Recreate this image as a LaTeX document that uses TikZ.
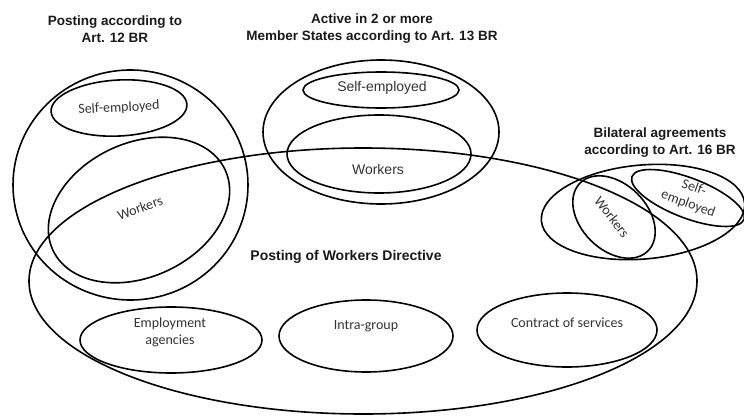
\documentclass[tikz,border=0pt]{standalone}
\usepackage{fontspec}
\setmainfont{Carlito}
\newfontfamily\arialfont{Liberation Sans}
\begin{document}
\begin{tikzpicture}[x=1pt,y=-1pt,
  venn/.style={line width=1.6pt,draw=black},
  title/.style={font=\arialfont\bfseries\fontsize{13.5}{17}\selectfont,align=center,text=black!90},
  lbl/.style={font=\fontsize{14}{17}\selectfont,align=center,text=black!80,inner sep=0.5pt},
  albl/.style={font=\arialfont\fontsize{14}{17}\selectfont,align=center,text=black!80,inner sep=0.5pt}]
\useasboundingbox (0,0) rectangle (744,415);
% big ellipse
\draw[venn] (363,281) ellipse [x radius=334, y radius=133];
% left group
\draw[venn] (130.5,185) ellipse [x radius=117.5, y radius=115];
\draw[venn, rotate around={3:(119,108)}] (119,108) ellipse [x radius=68, y radius=28];
\draw[venn, rotate around={25:(139,210)}] (139,210) ellipse [x radius=95, y radius=67];
% middle group
\draw[venn] (381,132) ellipse [x radius=118, y radius=72];
\draw[venn] (381,90) ellipse [x radius=78, y radius=18];
\draw[venn] (379,154) ellipse [x radius=92, y radius=39];
% right group
\draw[venn, rotate around={5:(643,212)}] (643,212) ellipse [x radius=102, y radius=47];
\draw[venn, rotate around={-45:(614,217)}] (614,217) ellipse [x radius=48, y radius=33];
\draw[venn, rotate around={-21:(688,198)}] (688,198) ellipse [x radius=60, y radius=20];
% bottom ellipses
\draw[venn] (171,340) ellipse [x radius=91, y radius=33];
\draw[venn] (366,336) ellipse [x radius=87, y radius=36];
\draw[venn] (567,330) ellipse [x radius=90, y radius=37];
% titles
\node[title] (t12) at (115,29) {Posting according to\\Art. 12 BR};
\node[title] (t13) at (372,29) {Active in 2 or more\\Member States according to Art. 13 BR};
\node[title] (t16) at (660,143) {Bilateral agreements\\according to Art. 16 BR};
\node[title, font=\arialfont\bfseries\fontsize{14}{17}\selectfont] (pwd) at (346,257) {Posting of Workers Directive};
% labels
\node[lbl, rotate=3] (lse) at (119,108) {Self-employed};
\node[lbl, rotate=20] (lw) at (140,208) {Workers};
\node[albl] (mse) at (382,88) {Self-employed};
\node[albl] (mw) at (378,169) {Workers};
\node[lbl, rotate=-52] (rw) at (612,217) {Workers};
\node[lbl, rotate=-20] (rse) at (691,196) {Self-\\employed};
\node[lbl] (ea) at (170,332) {Employment\\agencies};
\node[lbl] (ig) at (366,326) {Intra-group};
\node[lbl] (cs) at (567,323) {Contract of services};
\end{tikzpicture}
\end{document}
